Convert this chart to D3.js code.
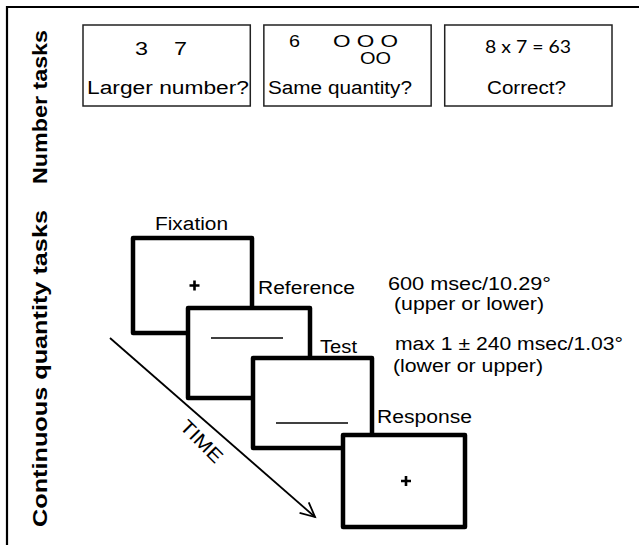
<!DOCTYPE html>
<html><head><meta charset="utf-8">
<script src="https://cdn.jsdelivr.net/npm/d3@7"></script>
<style>body{margin:0;background:#fff}svg{display:block}</style>
</head><body>
<script>
// ---- data ----
const sectionLabels = ["Number tasks", "Continuous quantity tasks"];
const numberTaskQuestions = ["Larger number?", "Same quantity?", "Correct?"];
const stageNames = ["Fixation", "Reference", "Test", "Response"];
const stageSymbols = ["+", "line", "line", "+"];
const stageNotes = [
  ["600 msec/10.29°", "(upper or lower)"],
  ["max 1 ± 240 msec/1.03°", "(lower or upper)"]
];
const timeLabel = "TIME";

// ---- layout ----
const W = 639, H = 545;
const svg = d3.select("body").append("svg").attr("width", W).attr("height", H);
const font = "Liberation Sans, Arial, sans-serif";

function txt(x, y, t, len, opts = {}) {
  const e = svg.append("text").attr("x", x).attr("y", y)
    .attr("font-family", opts.family || font).attr("font-size", opts.size || 18)
    .attr("text-anchor", opts.anchor || "start").text(t);
  if (opts.weight) e.attr("font-weight", opts.weight);
  if (len) e.attr("textLength", len).attr("lengthAdjust", "spacingAndGlyphs");
  if (opts.transform) e.attr("transform", opts.transform);
  return e;
}

// frame (top + left)
svg.append("path").attr("d", `M7,${H} L7,7 L${W},7`).attr("fill","none").attr("stroke","#000").attr("stroke-width",2.2);

// section labels (rotated)
const secY = [184, 527], secLen = [154, 317];
sectionLabels.forEach((t,i)=>{
  txt(0, 0, t, secLen[i], {weight:"bold", size:21, transform:`translate(47,${secY[i]}) rotate(-90)`});
});

// number task boxes
const bx = d3.scaleBand().domain(d3.range(numberTaskQuestions.length)).range([83, 612]).paddingInner(0.075);
const qX = [87, 268, 487], qLen = [162, 144, 79];
numberTaskQuestions.forEach((q,i)=>{
  svg.append("rect").attr("x",bx(i)).attr("y",25).attr("width",bx.bandwidth()).attr("height",81)
    .attr("fill","#fff").attr("stroke","#222").attr("stroke-width",1.5);
  txt(qX[i], 94, q, qLen[i], {size:18});
});

// box1 numbers
txt(135, 55, "3", 13, {size:18});
txt(174, 55, "7", 13, {size:18});
// box2 quantity
txt(289, 47, "6", 11, {size:17});
txt(333, 47, "O O  O", 65, {size:16});
txt(360, 64, "OO", 31, {size:16});
// box3 equation
txt(485, 53, "8 x 7 = 63", 86, {size:18, family:"Lato, sans-serif"});

// stage boxes
const stageX = [133, 188, 253, 343], stageY = [238, 308, 358, 435];
const stageW = [119, 122, 119, 122], stageH = [95, 90, 90, 92];
const st = svg.selectAll("g.st").data(stageNames).join("g").attr("class","st")
  .attr("transform",(d,i)=>`translate(${stageX[i]},${stageY[i]})`);
st.append("rect").attr("width",(d,i)=>stageW[i]).attr("height",(d,i)=>stageH[i])
  .attr("fill","#fff").attr("stroke","#000").attr("stroke-width",4.5).attr("stroke-linejoin","round");
st.each(function(d,i){
  const g = d3.select(this);
  if (stageSymbols[i] === "+") {
    const cx = stageW[i]/2 + 2, cy = stageH[i]/2;
    g.append("path").attr("d",`M${cx-5},${cy} H${cx+5} M${cx},${cy-5} V${cy+5}`).attr("stroke","#000").attr("stroke-width",2.6);
  } else {
    g.append("line").attr("x1",23).attr("x2",95).attr("y1",i===1?30:65).attr("y2",i===1?30:65).attr("stroke","#000").attr("stroke-width",1.6);
  }
});
// stage labels
const labelPos = [[155,230,73],[258,294,97],[320,353,37],[377,423,95]];
stageNames.forEach((t,i)=>{
  txt(labelPos[i][0], labelPos[i][1], t, labelPos[i][2], {size:18});
});
// notes
const noteX = [[388,394],[395,393]], noteY = [[290,310],[350,372]], noteLen = [[163,150],[228,150]];
stageNotes.forEach((n,i)=>{
  n.forEach((t,j)=>{
    txt(noteX[i][j], noteY[i][j], t, noteLen[i][j], {size:18});
  });
});

// time arrow
const ax0=110, ay0=338, ax1=315, ay1=517;
svg.append("line").attr("x1",ax0).attr("y1",ay0).attr("x2",ax1).attr("y2",ay1).attr("stroke","#000").attr("stroke-width",1.8);
const ang = Math.atan2(ay1-ay0, ax1-ax0);
const hl = 16, ha = 0.45;
svg.append("path").attr("d",`M${ax1-hl*Math.cos(ang-ha)},${ay1-hl*Math.sin(ang-ha)} L${ax1},${ay1} L${ax1-hl*Math.cos(ang+ha)},${ay1-hl*Math.sin(ang+ha)}`)
  .attr("fill","none").attr("stroke","#000").attr("stroke-width",1.8);
txt(0, 0, timeLabel, 52, {size:19, anchor:"middle", transform:`translate(197,446) rotate(${ang*180/Math.PI + 4})`});
</script>
</body></html>
